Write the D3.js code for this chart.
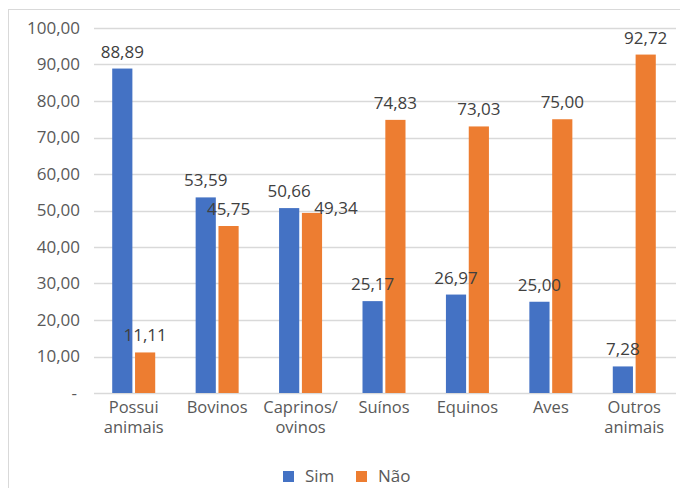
<!DOCTYPE html>
<html>
<head>
<meta charset="utf-8">
<script src="https://cdn.jsdelivr.net/npm/d3@7"></script>
<style>
  body { margin: 0; background: #fff; }
  svg { display: block; font-family: "Open Sans", sans-serif; }
</style>
</head>
<body>
<svg width="680" height="488"></svg>
<script>
var categories = ["Possui animais", "Bovinos", "Caprinos/ ovinos", "Suínos", "Equinos", "Aves", "Outros animais"];
var categoryLines = [["Possui", "animais"], ["Bovinos"], ["Caprinos/", "ovinos"], ["Suínos"], ["Equinos"], ["Aves"], ["Outros", "animais"]];
var series = ["Sim", "Não"];
var simValues = [88.89, 53.59, 50.66, 25.17, 26.97, 25.00, 7.28];
var naoValues = [11.11, 45.75, 49.34, 74.83, 73.03, 75.00, 92.72];
var yTicks = [0, 10, 20, 30, 40, 50, 60, 70, 80, 90, 100];

var colors = {"Sim": "#4472C4", "Não": "#ED7D31"};
var fmt = function(v) { return v.toFixed(2).replace(".", ","); };

var svg = d3.select("svg");

// chart area border
svg.append("rect")
    .attr("x", 8.5).attr("y", 9.5)
    .attr("width", 700).attr("height", 500)
    .attr("fill", "none")
    .attr("stroke", "#d9d9d9");

var x = d3.scaleBand().domain(categories).range([92, 676]);
var xs = d3.scaleBand().domain(series)
    .range([x.bandwidth() / 2 - 21.5, x.bandwidth() / 2 + 21.5])
    .paddingInner(5 / 43);
var y = d3.scaleLinear().domain([0, 100]).range([393, 28]);

// gridlines
svg.append("g").selectAll("line")
    .data(yTicks)
    .enter().append("line")
    .attr("x1", 94).attr("x2", 676)
    .attr("y1", function(d) { return Math.round(y(d)) + 0.5; })
    .attr("y2", function(d) { return Math.round(y(d)) + 0.5; })
    .attr("stroke", "#d9d9d9")
    .attr("stroke-width", 1.3);

// y tick labels
svg.append("g").selectAll("text")
    .data(yTicks)
    .enter().append("text")
    .attr("x", function(d) { return d === 0 ? 77 : 80; })
    .attr("y", function(d) { return y(d); })
    .attr("dy", "0.35em")
    .attr("text-anchor", "end")
    .attr("fill", "#595959")
    .style("font-size", "17px")
    .text(function(d) { return d === 0 ? "-" : fmt(d); });

var data = categories.map(function(c, i) {
    return {cat: c, values: [{s: "Sim", v: simValues[i], other: naoValues[i]},
                             {s: "Não", v: naoValues[i], other: simValues[i]}]};
});

var groups = svg.append("g").selectAll("g")
    .data(data)
    .enter().append("g")
    .attr("transform", function(d) { return "translate(" + x(d.cat) + ",0)"; });

groups.selectAll("rect")
    .data(function(d) { return d.values; })
    .enter().append("rect")
    .attr("x", function(d) { return xs(d.s); })
    .attr("width", xs.bandwidth())
    .attr("y", function(d) { return y(d.v); })
    .attr("height", function(d) { return y(0) - y(d.v); })
    .attr("fill", function(d) { return colors[d.s]; });

// value labels; nudge the orange one aside when it would collide with the blue one
function clash(d) {
    return d.s === "Não" && Math.abs(y(d.v) - y(d.other)) < 15;
}
groups.selectAll("text.val")
    .data(function(d) { return d.values; })
    .enter().append("text")
    .attr("class", "val")
    .attr("x", function(d) { return xs(d.s) + xs.bandwidth() / 2 + (clash(d) ? 24 : 0); })
    .attr("y", function(d) { return y(d.v) - (clash(d) ? 5 : 17); })
    .attr("dy", "0.35em")
    .attr("text-anchor", "middle")
    .attr("fill", "#404040")
    .style("font-size", "17px")
    .text(function(d) { return fmt(d.v); });

// category labels
var catText = svg.append("g").selectAll("text")
    .data(categories)
    .enter().append("text")
    .attr("x", function(d) { return x(d) + x.bandwidth() / 2; })
    .attr("y", 407)
    .attr("text-anchor", "middle")
    .attr("fill", "#595959")
    .style("font-size", "16.5px");

catText.selectAll("tspan")
    .data(function(d, i) { return categoryLines[i]; })
    .enter().append("tspan")
    .attr("x", function() { return d3.select(this.parentNode).attr("x"); })
    .attr("dy", function(d, i) { return i === 0 ? "0.35em" : "20"; })
    .text(function(d) { return d; });

// legend
var legendX = {"Sim": 283, "Não": 356};
var legend = svg.append("g").selectAll("g")
    .data(series)
    .enter().append("g")
    .attr("transform", function(d) { return "translate(" + legendX[d] + ",471)"; });

legend.append("rect")
    .attr("width", 11).attr("height", 11)
    .attr("fill", function(d) { return colors[d]; });

legend.append("text")
    .attr("x", 22).attr("y", 5.5)
    .attr("dy", "0.35em")
    .attr("fill", "#595959")
    .style("font-size", "17px")
    .text(function(d) { return d; });
</script>
</body>
</html>
